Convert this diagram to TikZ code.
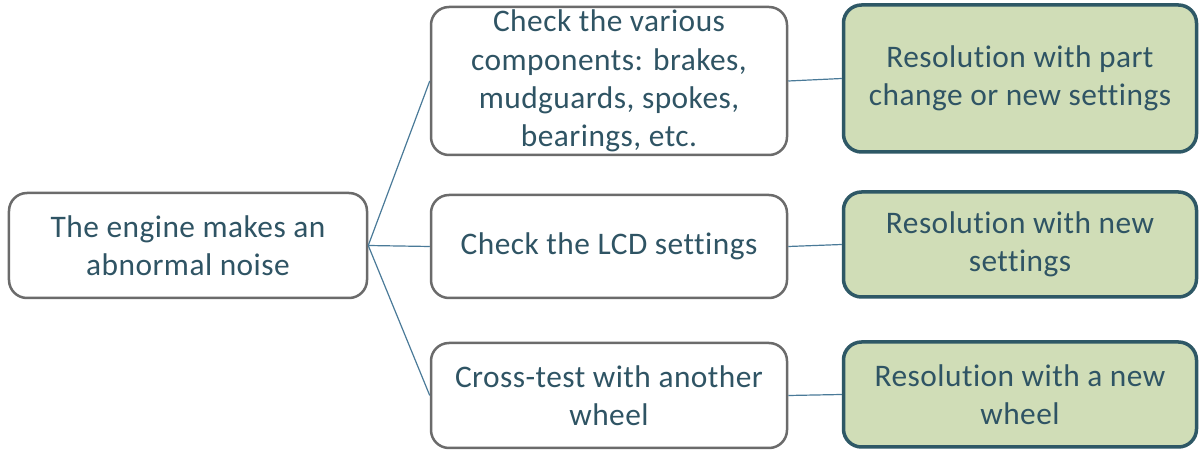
\documentclass[tikz,border=0pt]{standalone}
\usepackage{fontspec}
\setmainfont{Carlito}[Ligatures={NoCommon}, LetterSpace=1.5]
\definecolor{txt}{HTML}{2F5464}
\definecolor{graybd}{HTML}{6B6B6B}
\definecolor{greenfill}{HTML}{D0DDB7}
\definecolor{greenbd}{HTML}{2E5866}
\definecolor{link}{HTML}{4A7A98}
\tikzset{
  x=1bp, y=-1bp,
  every node/.style={font=\fontsize{31.5}{38.5}\selectfont, text=txt, align=center, inner sep=0pt},
  plainbox/.style={draw=graybd, line width=2.5bp, rounded corners=18bp, fill=white},
  resbox/.style={draw=greenbd, line width=3.5bp, rounded corners=18bp, fill=greenfill},
  link/.style={draw=link, line width=1.2bp}
}
\begin{document}
\begin{tikzpicture}
\useasboundingbox (0,0) rectangle (1199,451);
% root
\node[plainbox, minimum width=358bp, minimum height=105bp] (root) at (188,245.5)
  {The engine makes an\\abnormal noise};
% checks
\node[plainbox, minimum width=356bp, minimum height=148bp] (c1) at (609,81)
  {Check the various\\components: brakes,\\mudguards, spokes,\\bearings, etc.};
\node[plainbox, minimum width=356bp, minimum height=103bp] (c2) at (609,246.5)
  {Check the LCD settings};
\node[plainbox, minimum width=356bp, minimum height=105bp] (c3) at (609,395.5)
  {Cross-test with another\\wheel};
% resolutions
\node[resbox, minimum width=353bp, minimum height=147bp] (r1) at (1020,78.5)
  {Resolution with part\\change or new settings};
\node[resbox, minimum width=353bp, minimum height=105bp] (r2) at (1020,244.5)
  {Resolution with new\\settings};
\node[resbox, minimum width=353bp, minimum height=105bp] (r3) at (1020,394.5)
  {Resolution with a new\\wheel};
% connectors
\draw[link] (root.east) -- (c1.west);
\draw[link] (root.east) -- (c2.west);
\draw[link] (root.east) -- (c3.west);
\draw[link] (c1.east) -- (r1.west);
\draw[link] (c2.east) -- (r2.west);
\draw[link] (c3.east) -- (r3.west);
\end{tikzpicture}
\end{document}
